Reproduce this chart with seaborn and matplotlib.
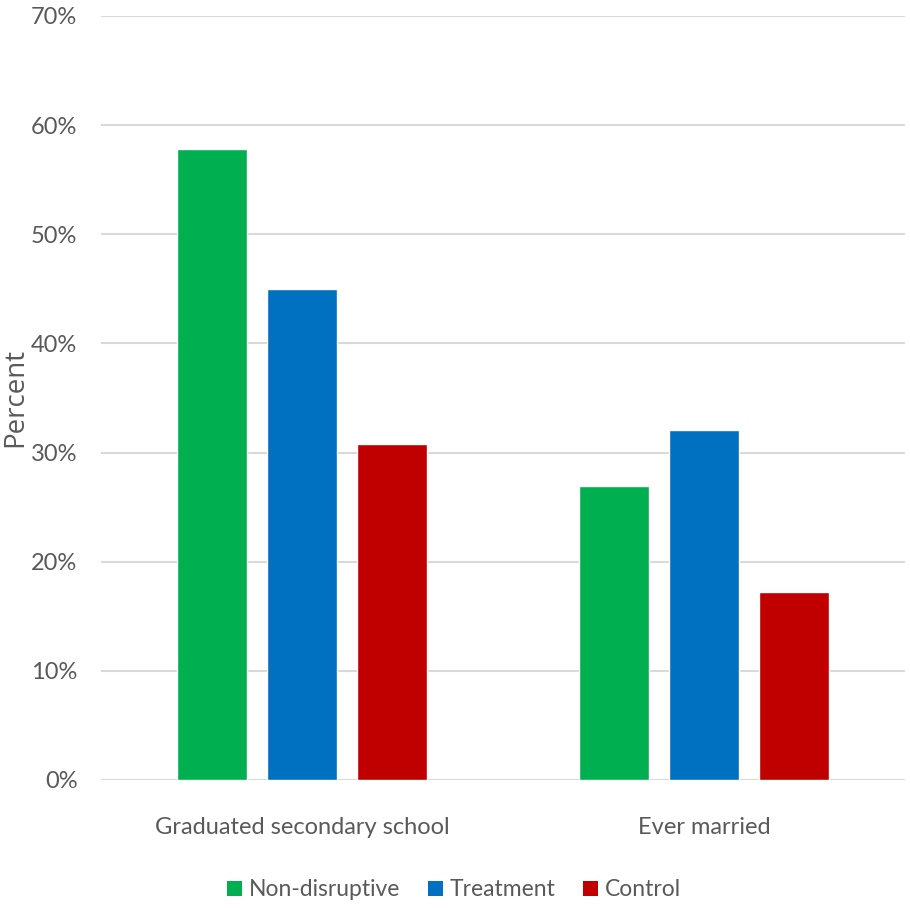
import matplotlib
matplotlib.use("Agg")
import matplotlib.pyplot as plt
import seaborn as sns
import pandas as pd
from matplotlib.patches import Patch
from matplotlib.ticker import FuncFormatter

# Outcome shares by group
categories = ["Graduated secondary school", "Ever married"]
groups = ["Non-disruptive", "Treatment", "Control"]
non_disruptive = [0.578, 0.269]
treatment = [0.45, 0.321]
control = [0.308, 0.172]
colors = ["#00B050", "#0070C0", "#C00000"]

rows = []
for grp, vals in zip(groups, [non_disruptive, treatment, control]):
    for cat, v in zip(categories, vals):
        rows.append({"Outcome": cat, "Group": grp, "Percent": v})
df = pd.DataFrame(rows)

sns.set_theme(style="white")
plt.rcParams["font.family"] = ["Lato", "DejaVu Sans"]
text_color = "#595959"

W, H = 910, 908
top_px, bottom_px = 16, 780
fig = plt.figure(figsize=(W / 100, H / 100), dpi=100)
ax = fig.add_axes([101 / W, 1 - bottom_px / H, (905 - 101) / W, (bottom_px - top_px) / H])

sns.barplot(data=df, x="Outcome", y="Percent", hue="Group", order=categories,
            hue_order=groups, palette=colors, width=0.672, gap=0.22,
            saturation=1, legend=False, ax=ax)

ax.set_ylim(0, 0.7)
ax.set_xlim(-0.5, 1.5)
ax.set_yticks([i / 10 for i in range(8)])
ax.yaxis.set_major_formatter(FuncFormatter(lambda v, _: f"{v * 100:.0f}%"))
ax.grid(axis="y", color="#d9d9d9", linewidth=1.5)
ax.set_axisbelow(True)
for s in ax.spines.values():
    s.set_visible(False)
ax.tick_params(axis="both", length=0, labelsize=17, colors=text_color)
ax.tick_params(axis="y", pad=17)
ax.tick_params(axis="x", pad=27)
ax.set_xlabel("")
ax.set_ylabel("Percent", fontsize=20, color=text_color,
              family=["Open Sans", "DejaVu Sans"])
ax.yaxis.label.set_va("center")
ax.yaxis.set_label_coords((15 - 101) / 804, (bottom_px - 397) / (bottom_px - top_px))

handles = [Patch(facecolor=c, edgecolor="none") for c in colors]
fig.legend(handles, groups, loc="center", bbox_to_anchor=(454 / W, 1 - 890 / H),
           ncol=3, frameon=False, fontsize=16.5, handlelength=0.65, handleheight=0.65,
           handletextpad=0.3, columnspacing=1.2, labelcolor=text_color)

fig.savefig("out.png", dpi=100)
